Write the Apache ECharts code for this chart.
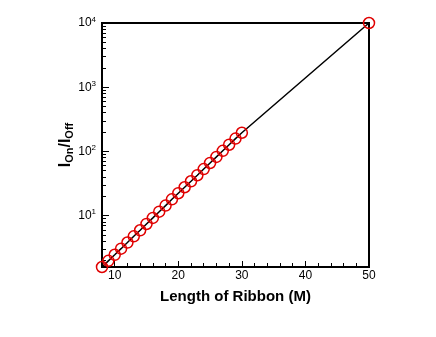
<!DOCTYPE html>
<html>
<head>
<meta charset="utf-8">
<script src="https://cdn.jsdelivr.net/npm/echarts@6/dist/echarts.min.js"></script>
<style>html,body{margin:0;padding:0;background:#fff;}#c{width:436px;height:337px;}</style>
</head>
<body>
<div id="c"></div>
<script>
const lengths = [8, 9, 10, 11, 12, 13, 14, 15, 16, 17, 18, 19, 20, 21, 22, 23, 24, 25, 26, 27, 28, 29, 30, 50];
const ratios = [1.58, 1.97, 2.45, 3.05, 3.8, 4.75, 5.9, 7.4, 9.2, 11.5, 14.3, 17.9, 22.3, 27.6, 34.2, 42.5, 53, 66, 82, 102, 127, 158, 195, 10000];
const xMajorTicks = [10, 20, 30, 40, 50];
const xMinorTicks = [12, 14, 16, 18, 22, 24, 26, 28, 32, 34, 36, 38, 42, 44, 46, 48];
const yMajorTicks = [10, 100, 1000, 10000];
const yMinorTicks = [2, 3, 4, 5, 6, 7, 8, 9, 20, 30, 40, 50, 60, 70, 80, 90, 200, 300, 400, 500, 600, 700, 800, 900, 2000, 3000, 4000, 5000, 6000, 7000, 8000, 9000];

const font = 'Liberation Sans, Arial, Helvetica, sans-serif';
const chart = echarts.init(document.getElementById('c'), null, {renderer: 'canvas'});
const xRange = {min: 8, max: 50};
const yRange = {min: 1.58, max: 10000};
chart.setOption({
  animation: false,
  grid: {left: 102, right: 67, top: 23, bottom: 70, show: true, borderColor: '#000', borderWidth: 2, backgroundColor: 'transparent'},
  xAxis: [{
    type: 'value', ...xRange, position: 'bottom',
    name: 'Length of Ribbon (M)', nameLocation: 'middle', nameGap: 22, nameMoveOverlap: false,
    nameTextStyle: {fontFamily: font, fontWeight: 'bold', fontSize: 15, color: '#000'},
    axisLine: {show: true, lineStyle: {color: '#000', width: 2}},
    axisTick: {show: true, inside: true, length: 6, customValues: xMajorTicks, lineStyle: {color: '#000', width: 1}},
    axisLabel: {customValues: xMajorTicks, fontFamily: font, fontSize: 12, color: '#000', margin: 3},
    splitLine: {show: false}
  }, {
    type: 'value', ...xRange, position: 'bottom',
    axisLine: {show: false},
    axisTick: {show: true, inside: true, length: 4, customValues: xMinorTicks, lineStyle: {color: '#000', width: 1}},
    axisLabel: {show: false},
    splitLine: {show: false}
  }],
  yAxis: [{
    type: 'log', ...yRange, position: 'left',
    name: '{b|I}{s|On}{b|/I}{s|Off}', nameLocation: 'middle', nameGap: 27, nameRotate: 90, nameMoveOverlap: false,
    nameTextStyle: {fontFamily: font, color: '#000', rich: {
      b: {fontFamily: font, fontWeight: 'bold', fontSize: 16, color: '#000'},
      s: {fontFamily: font, fontWeight: 'bold', fontSize: 11, color: '#000', verticalAlign: 'bottom', padding: [8, 0, 0, 0]}
    }},
    axisLine: {show: true, lineStyle: {color: '#000', width: 2}},
    axisTick: {show: true, inside: true, length: 7, customValues: yMajorTicks, lineStyle: {color: '#000', width: 1}},
    axisLabel: {customValues: yMajorTicks, margin: 6,
      formatter: function (v) { return '{b|10}{s|' + Math.round(Math.log10(v)) + '}'; },
      rich: {
        b: {fontFamily: font, fontSize: 12, color: '#000'},
        s: {fontFamily: font, fontSize: 8, color: '#000', verticalAlign: 'top', padding: [0, 0, 7, 0]}
      }},
    splitLine: {show: false}
  }, {
    type: 'log', ...yRange, position: 'left',
    axisLine: {show: false},
    axisTick: {show: true, inside: true, length: 4, customValues: yMinorTicks, lineStyle: {color: '#000', width: 1}},
    axisLabel: {show: false},
    splitLine: {show: false}
  }],
  series: [{
    type: 'line', xAxisIndex: 0, yAxisIndex: 0,
    data: lengths.map((x, i) => [x, ratios[i]]),
    symbol: 'circle', symbolSize: 11,
    lineStyle: {color: '#000', width: 1.5},
    itemStyle: {color: 'rgba(0,0,0,0)', borderColor: '#e00000', borderWidth: 1.5},
    clip: false
  }]
});
</script>
</body>
</html>
